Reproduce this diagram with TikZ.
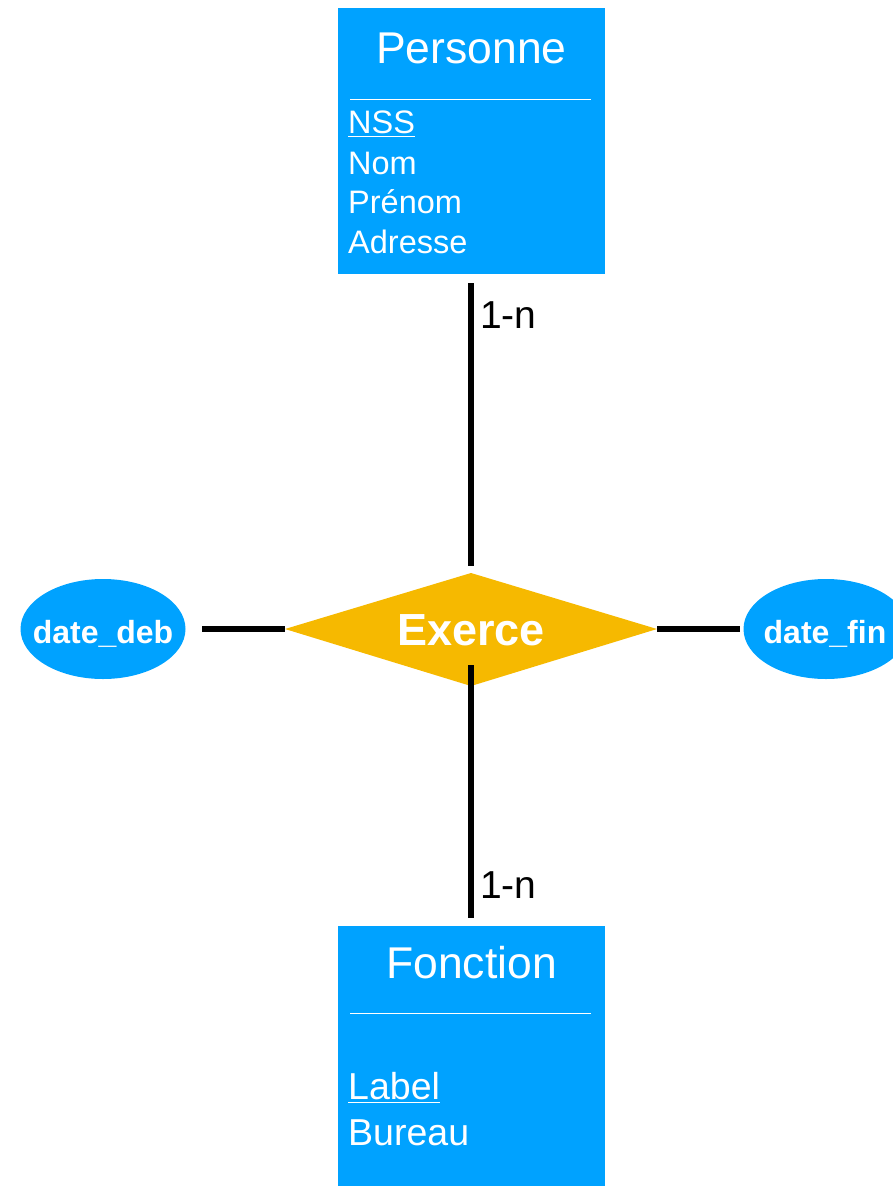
\documentclass[tikz,border=0pt]{standalone}
\usepackage{fontspec}
\setmainfont{Liberation Sans}
\usetikzlibrary{shapes.geometric}
\definecolor{entblue}{RGB}{0,162,255}
\definecolor{relorange}{RGB}{246,185,0}
\begin{document}
\begin{tikzpicture}[x=1pt,y=-1pt,
  entity/.style={fill=entblue,draw=none,inner sep=0pt,anchor=north west},
  title/.style={text=white,inner sep=0pt,anchor=base,font=\fontsize{44.5}{50}\selectfont},
  attr/.style={text=white,inner sep=0pt,anchor=base west,font=\fontsize{32.5}{38}\selectfont},
  attrb/.style={text=white,inner sep=0pt,anchor=base west,font=\fontsize{37.5}{42}\selectfont},
  sep/.style={white,line width=0.8pt},
  uline/.style={white,line width=1.8pt},
  attrib/.style={ellipse,fill=entblue,draw=none,inner sep=0pt,minimum width=165pt,minimum height=100pt},
  attrtext/.style={text=white,inner sep=0pt,anchor=base,font=\bfseries\fontsize{32}{38}\selectfont},
  link/.style={black,line width=5.5pt},
  card/.style={black,inner sep=0pt,anchor=base west,font=\fontsize{39}{44}\selectfont}]
\useasboundingbox (0,0) rectangle (892,1186);
% Personne
\node[entity,minimum width=267pt,minimum height=266pt] (pers) at (338,8) {};
\node[title] (perst) at (471.5,63) {Personne};
\coordinate (ps1) at (350,99);
\coordinate (ps2) at (591,99);
\draw[sep] (ps1) -- (ps2);
\node[attr] (nss) at (348,133) {NSS};
\node[attr] (nom) at (348,174) {Nom};
\node[attr] (prenom) at (348,213) {Prénom};
\node[attr] (adr) at (348,253) {Adresse};
\draw[uline] ([yshift=-3.5pt]nss.base west) -- ([yshift=-3.5pt]nss.base east);
% Fonction
\node[entity,minimum width=267pt,minimum height=262pt] (fonc) at (338,926) {};
\node[title] (fonct) at (471.5,978) {Fonction};
\coordinate (fs1) at (350,1013);
\coordinate (fs2) at (591,1013);
\draw[sep] (fs1) -- (fs2);
\node[attrb] (lab) at (348,1099) {Label};
\node[attrb] (bur) at (348,1145) {Bureau};
\draw[uline] ([yshift=-3.5pt]lab.base west) -- ([yshift=-3.5pt]lab.base east);
% Exerce
\coordinate (dt) at (471,573);
\coordinate (dr) at (657,629);
\coordinate (db) at (471,686);
\coordinate (dl) at (285,629);
\fill[relorange] (dt) -- (dr) -- (db) -- (dl) -- cycle;
\node[text=white,inner sep=0pt,anchor=base,font=\bfseries\fontsize{45}{50}\selectfont] (ex) at (471,645) {Exerce};
% attributes
\node[attrib] (deb) at (103,629) {};
\node[attrtext] (debt) at (103,643) {date\_deb};
\node[attrib] (fin) at (826,629) {};
\node[attrtext] (fint) at (825,643) {date\_fin};
% links
\coordinate (l1a) at (471,283);
\coordinate (l1b) at (471,566);
\coordinate (l2a) at (471,665);
\coordinate (l2b) at (471,918);
\coordinate (l3a) at (202,629);
\coordinate (l4b) at (740,629);
\draw[link] (l1a) -- (l1b);
\draw[link] (l2a) -- (l2b);
\draw[link] (l3a) -- (dl);
\draw[link] (dr) -- (l4b);
\node[card] (c1) at (480,328) {1-n};
\node[card] (c2) at (480,898) {1-n};
\end{tikzpicture}
\end{document}
